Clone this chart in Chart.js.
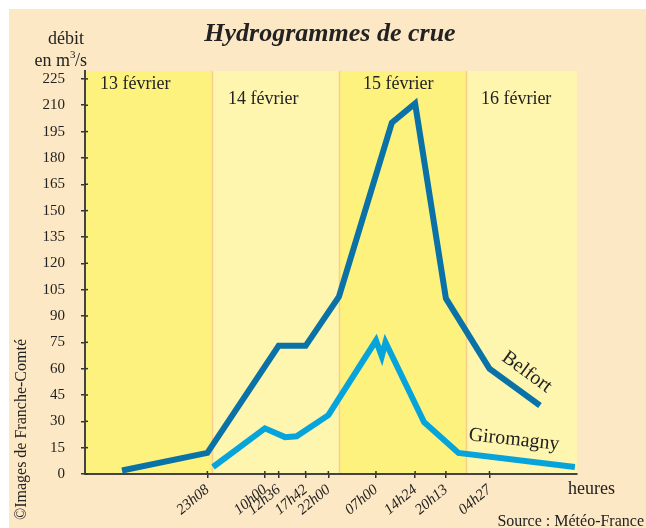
<!DOCTYPE html>
<html><head><meta charset="utf-8">
<script src="https://cdn.jsdelivr.net/npm/chart.js@4/dist/chart.umd.min.js"></script>
<style>html,body{margin:0;padding:0;background:#fff}#wrap{width:646px;height:528px}</style>
</head><body><div id="wrap"><canvas id="c" width="646" height="528"></canvas></div>
<script>
// Data (hours counted from 13 February 00h00)
const hoursBelfort = [7, 23.13, 36.6, 41.7, 48, 58, 62.4, 68.22, 76.45, 86];
const flowBelfort = [2, 12, 73, 73, 101, 200, 211, 100, 60, 39];
const hoursGiromagny = [24.2, 34, 37.8, 40, 46, 55, 56.1, 56.8, 64.1, 70.6, 92.6];
const flowGiromagny = [4, 26, 21, 21.5, 33.5, 76, 67, 75, 29.5, 12, 4];
const tickHours = [23.13, 34, 36.6, 41.7, 46, 55, 62.4, 68.22, 76.45];
const tickLabels = ['23h08', '10h00', '12h36', '17h42', '22h00', '07h00', '14h24', '20h13', '04h27'];
const yTicks = [0, 15, 30, 45, 60, 75, 90, 105, 120, 135, 150, 165, 180, 195, 210, 225];
const dayStarts = [0, 24, 48, 72];
const dayEnd = 93;
const dayLabels = ['13 février', '14 février', '15 février', '16 février'];
const seriesNames = ['Belfort', 'Giromagny'];

const SERIF = '"Liberation Serif", "DejaVu Serif", serif';

const deco = {
  id: 'deco',
  beforeDraw(chart) {
    const ctx = chart.ctx, xs = chart.scales.x, a = chart.chartArea;
    ctx.save();
    ctx.fillStyle = '#ffffff';
    ctx.fillRect(0, 0, chart.width, chart.height);
    ctx.fillStyle = '#FDE8C5';
    ctx.fillRect(9, 9, chart.width - 9, chart.height - 9);
    const cols = ['#FEF27F', '#FEF6AE'];
    for (let i = 0; i < dayStarts.length; i++) {
      const x0 = xs.getPixelForValue(dayStarts[i]);
      const x1 = xs.getPixelForValue(i < dayStarts.length - 1 ? dayStarts[i + 1] : dayEnd);
      ctx.fillStyle = cols[i % 2];
      ctx.fillRect(x0, a.top, x1 - x0, a.bottom - a.top);
    }
    ctx.strokeStyle = '#F8CE8C';
    ctx.lineWidth = 1.5;
    for (let i = 1; i < dayStarts.length; i++) {
      const x = Math.round(xs.getPixelForValue(dayStarts[i])) + 0.5;
      ctx.beginPath(); ctx.moveTo(x, a.top); ctx.lineTo(x, a.bottom); ctx.stroke();
    }
    // day labels
    ctx.fillStyle = '#222';
    ctx.font = '18px ' + SERIF;
    ctx.textAlign = 'left';
    ctx.textBaseline = 'middle';
    const offs = [15, 16, 24, 15];
    const ys = [84, 99, 84, 99];
    for (let i = 0; i < dayLabels.length; i++) {
      ctx.fillText(dayLabels[i], xs.getPixelForValue(dayStarts[i]) + offs[i], ys[i]);
    }
    ctx.restore();
  },
  afterDraw(chart) {
    const ctx = chart.ctx, xs = chart.scales.x, ysc = chart.scales.y, a = chart.chartArea;
    ctx.save();
    // inner tick parts
    ctx.strokeStyle = '#333';
    ctx.lineWidth = 1.5;
    yTicks.forEach(v => {
      const y = ysc.getPixelForValue(v);
      ctx.beginPath(); ctx.moveTo(a.left, y); ctx.lineTo(a.left + 3, y); ctx.stroke();
    });
    tickHours.forEach(v => {
      const x = xs.getPixelForValue(v);
      ctx.beginPath(); ctx.moveTo(x, a.bottom); ctx.lineTo(x, a.bottom - 3); ctx.stroke();
    });
    ctx.fillStyle = '#222';
    // title
    ctx.font = 'italic bold 26px ' + SERIF;
    ctx.textAlign = 'center';
    ctx.textBaseline = 'alphabetic';
    ctx.fillText('Hydrogrammes de crue', 330, 41);
    // axis title
    ctx.font = '18px ' + SERIF;
    ctx.textAlign = 'right';
    ctx.fillText('débit', 84, 44);
    ctx.fillText('en m', 70, 66);
    ctx.font = '11px ' + SERIF;
    ctx.textAlign = 'left';
    ctx.fillText('3', 70, 58);
    ctx.font = '18px ' + SERIF;
    ctx.fillText('/s', 75, 66);
    ctx.textAlign = 'left';
    ctx.fillText('heures', 568, 494);
    ctx.font = '16px ' + SERIF;
    ctx.textAlign = 'right';
    ctx.fillText('Source : Météo-France', 644, 526);
    // copyright
    ctx.save();
    ctx.translate(26, 520);
    ctx.rotate(-Math.PI / 2);
    ctx.textAlign = 'left';
    ctx.fillText('©Images de Franche-Comté', 0, 0);
    ctx.restore();
    // series labels
    ctx.font = '20px ' + SERIF;
    ctx.textAlign = 'center';
    ctx.textBaseline = 'middle';
    ctx.save();
    ctx.translate(xs.getPixelForValue(83.5), ysc.getPixelForValue(58));
    ctx.rotate(36 * Math.PI / 180);
    ctx.fillText(seriesNames[0], 0, 0);
    ctx.restore();
    ctx.save();
    ctx.translate(xs.getPixelForValue(81.1), ysc.getPixelForValue(19.5));
    ctx.rotate(6 * Math.PI / 180);
    ctx.fillText(seriesNames[1], 0, 0);
    ctx.restore();
    ctx.restore();
  }
};

new Chart(document.getElementById('c'), {
  type: 'line',
  data: {
    datasets: [
      {
        label: seriesNames[1],
        data: hoursGiromagny.map((h, i) => ({ x: h, y: flowGiromagny[i] })),
        borderColor: '#06A4DA', borderWidth: 6, pointRadius: 0, fill: false,
        tension: 0, borderJoinStyle: 'miter', borderCapStyle: 'butt'
      },
      {
        label: seriesNames[0],
        data: hoursBelfort.map((h, i) => ({ x: h, y: flowBelfort[i] })),
        borderColor: '#0A72A6', borderWidth: 6, pointRadius: 0, fill: false,
        tension: 0, borderJoinStyle: 'miter', borderCapStyle: 'butt'
      }
    ]
  },
  options: {
    responsive: false,
    animation: false,
    devicePixelRatio: 1,
    layout: { padding: { left: 9, right: 69, top: 71, bottom: 0 } },
    plugins: { legend: { display: false }, tooltip: { enabled: false }, title: { display: false } },
    scales: {
      x: {
        type: 'linear', min: 0, max: dayEnd, position: 'bottom',
        afterBuildTicks: s => { s.ticks = tickHours.map(v => ({ value: v })); },
        afterFit: s => { s.height = 54; },
        ticks: {
          autoSkip: false, minRotation: 40, maxRotation: 40, padding: 3,
          color: '#222', font: { family: SERIF, size: 15, style: 'italic' },
          callback: v => tickLabels[tickHours.indexOf(v)]
        },
        grid: { drawOnChartArea: false, drawTicks: true, tickLength: 4, color: '#333', lineWidth: 1.5 },
        border: { color: '#444', width: 2 }
      },
      y: {
        type: 'linear', min: 0, max: 229.5,
        afterBuildTicks: s => { s.ticks = yTicks.map(v => ({ value: v })); },
        afterFit: s => { s.width = 76; },
        ticks: { padding: 16, color: '#222', font: { family: SERIF, size: 15 } },
        grid: { drawOnChartArea: false, drawTicks: true, tickLength: 4, color: '#333', lineWidth: 1.5 },
        border: { color: '#444', width: 2 }
      }
    }
  },
  plugins: [deco]
});
</script>
</body></html>
